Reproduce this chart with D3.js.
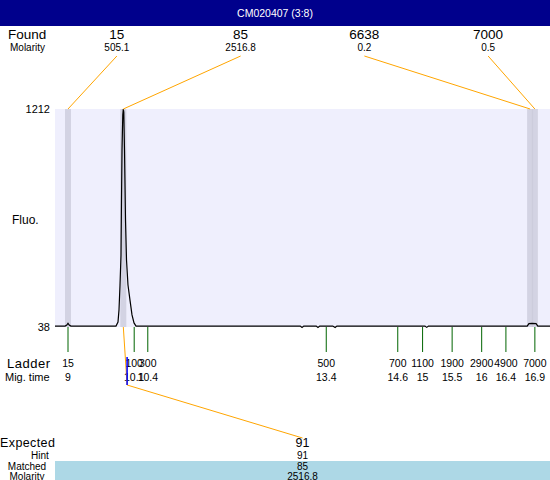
<!DOCTYPE html>
<html><head><meta charset="utf-8">
<script src="https://cdn.jsdelivr.net/npm/d3@7"></script>
<style>body{margin:0;background:#fff}svg{display:block;font-family:"Liberation Sans",Arial,sans-serif}</style>
</head><body><div id="c"></div>
<script>
const title = "CM020407 (3:8)";
const foundSizes = ["15", "85", "6638", "7000"];
const foundTimes = [9.0, 9.936, 16.82, 16.90];
const foundMolarity = ["505.1", "2516.8", "0.2", "0.5"];
const ladderSizes = ["15", "100", "300", "500", "700", "1100", "1900", "2900", "4900", "7000"];
const ladderTimes = [9.0, 10.12, 10.35, 13.37, 14.58, 15.0, 15.5, 16.0, 16.41, 16.9];
const ladderMigLabels = ["9", "10.1", "10.4", "13.4", "14.6", "15", "15.5", "16", "16.4", "16.9"];
const yTickLabels = ["1212", "38"];
const traceTime = [8.78, 8.95, 8.98, 9.0, 9.02, 9.05, 9.5, 9.812, 9.846, 9.863, 9.88, 9.897, 9.905, 9.914, 9.927, 9.936, 9.944, 9.956, 9.973, 9.99, 10.015, 10.049, 10.083, 10.117, 10.151, 10.6, 12.93, 12.96, 12.99, 13.2, 13.23, 13.26, 13.48, 13.52, 13.55, 15.04, 15.07, 15.1, 16.77, 16.80, 16.85, 16.92, 16.95, 17.16];
const traceFluo = [43, 43, 48, 58, 48, 43, 43, 43, 65, 130, 264, 426, 722, 991, 1180, 1212, 1196, 991, 614, 399, 264, 183, 103, 60, 43, 43, 43, 35, 43, 43, 35, 43, 43, 35, 43, 43, 36, 43, 43, 56, 58, 56, 43, 43];
const expectedSizes = ["91"];
const expectedTimes = [10.0];
const hintLabels = ["91"];
const matchedLabels = ["85"];
const matchedMolarity = ["2516.8"];
const matchedPeakIndex = [1];

const W = 550, H = 480;
const L = 55, R = 550, T = 109, B = 327;
const svg = d3.select("#c").append("svg").attr("width", W).attr("height", H);

const x = d3.scaleLinear().domain([8.78, 17.156]).range([L, R]);
const y = d3.scaleLinear().domain([38, 1212]).range([B, T]);

// title bar
svg.append("rect").attr("x", 0).attr("y", 0).attr("width", W).attr("height", 26).attr("fill", "#00008C");
svg.append("text").attr("x", W / 2).attr("y", 13).attr("dy", "0.35em").attr("text-anchor", "middle")
  .attr("fill", "#fff").attr("font-size", 10.5).text(title);

// plot background
svg.append("rect").attr("x", L).attr("y", T).attr("width", R - L).attr("height", B - T).attr("fill", "#EFEFFD");

// peak bands
svg.selectAll("rect.band").data(foundTimes).join("rect").attr("class", "band")
  .attr("x", d => x(d) - 3).attr("y", T).attr("width", 6).attr("height", B - T)
  .attr("fill", "#C9C9D9").attr("fill-opacity", 0.75);

// y labels
svg.append("text").attr("x", 50).attr("y", y(1212)).attr("dy", "0.35em").attr("text-anchor", "end").attr("font-size", 11).text(yTickLabels[0]);
svg.append("text").attr("x", 50).attr("y", y(38)).attr("dy", "0.35em").attr("text-anchor", "end").attr("font-size", 11).text(yTickLabels[1]);
svg.append("text").attr("x", 12).attr("y", 220).attr("dy", "0.35em").attr("font-size", 12).text("Fluo.");

// trace
const pts = traceTime.map((t, i) => [t, traceFluo[i]]);
svg.append("path").datum(pts).attr("fill", "none").attr("stroke", "#000").attr("stroke-width", 1.2)
  .attr("d", d3.line().x(d => x(d[0])).y(d => y(d[1])));

// found header
const slotF = (R - L) / foundSizes.length;
svg.append("text").attr("x", 8).attr("y", 34).attr("dy", "0.35em").attr("font-size", 13.5).text("Found");
svg.append("text").attr("x", 10).attr("y", 47).attr("dy", "0.35em").attr("font-size", 10).text("Molarity");
foundSizes.forEach((s, i) => {
  const lx = L + (i + 0.5) * slotF;
  svg.append("text").attr("x", lx).attr("y", 34).attr("dy", "0.35em").attr("text-anchor", "middle").attr("font-size", 13.5).text(s);
  svg.append("text").attr("x", lx).attr("y", 47).attr("dy", "0.35em").attr("text-anchor", "middle").attr("font-size", 10).text(foundMolarity[i]);
  svg.append("line").attr("x1", lx).attr("y1", 56).attr("x2", x(foundTimes[i])).attr("y2", T)
    .attr("stroke", "orange").attr("stroke-width", 1);
});

// ladder
svg.selectAll("line.lad").data(ladderTimes).join("line").attr("class", "lad")
  .attr("x1", d => x(d)).attr("x2", d => x(d)).attr("y1", B).attr("y2", 352)
  .attr("stroke", "#006400").attr("stroke-width", 1);
svg.append("text").attr("x", 7).attr("y", 363).attr("dy", "0.35em").attr("font-size", 13).attr("letter-spacing", 0.5).text("Ladder");
svg.append("text").attr("x", 5).attr("y", 377).attr("dy", "0.35em").attr("font-size", 11).text("Mig. time");
ladderSizes.forEach((s, i) => {
  svg.append("text").attr("x", x(ladderTimes[i])).attr("y", 363).attr("dy", "0.35em").attr("text-anchor", "middle").attr("font-size", 10.5).text(s);
  svg.append("text").attr("x", x(ladderTimes[i])).attr("y", 377).attr("dy", "0.35em").attr("text-anchor", "middle").attr("font-size", 10.5).text(ladderMigLabels[i]);
});

// expected
const slotE = (R - L) / expectedSizes.length;
expectedSizes.forEach((s, i) => {
  const ex = x(expectedTimes[i]);
  const lx = L + (i + 0.5) * slotE;
  const px = x(foundTimes[matchedPeakIndex[i]]);
  svg.append("path").attr("fill", "none").attr("stroke", "orange").attr("stroke-width", 1)
    .attr("d", d3.line()([[px, B], [ex, 385], [lx, 438]]));
  svg.append("line").attr("x1", ex).attr("x2", ex).attr("y1", 357).attr("y2", 385).attr("stroke", "#0000FF").attr("stroke-width", 1.5);
});

svg.append("rect").attr("x", L).attr("y", 461).attr("width", R - L).attr("height", H - 461).attr("fill", "#ADD8E6");
svg.append("text").attr("x", 0).attr("y", 443).attr("dy", "0.35em").attr("font-size", 12.5).attr("letter-spacing", 0.4).text("Expected");
svg.append("text").attr("x", 40).attr("y", 455).attr("dy", "0.35em").attr("text-anchor", "middle").attr("font-size", 10).text("Hint");
svg.append("text").attr("x", 27).attr("y", 466).attr("dy", "0.35em").attr("text-anchor", "middle").attr("font-size", 10).text("Matched");
svg.append("text").attr("x", 27).attr("y", 476).attr("dy", "0.35em").attr("text-anchor", "middle").attr("font-size", 10).text("Molarity");
expectedSizes.forEach((s, i) => {
  const lx = L + (i + 0.5) * slotE;
  svg.append("text").attr("x", lx).attr("y", 443).attr("dy", "0.35em").attr("text-anchor", "middle").attr("font-size", 12.5).text(s);
  svg.append("text").attr("x", lx).attr("y", 455).attr("dy", "0.35em").attr("text-anchor", "middle").attr("font-size", 10).text(hintLabels[i]);
  svg.append("text").attr("x", lx).attr("y", 466).attr("dy", "0.35em").attr("text-anchor", "middle").attr("font-size", 10).text(matchedLabels[i]);
  svg.append("text").attr("x", lx).attr("y", 476).attr("dy", "0.35em").attr("text-anchor", "middle").attr("font-size", 10).text(matchedMolarity[i]);
});
</script></body></html>
